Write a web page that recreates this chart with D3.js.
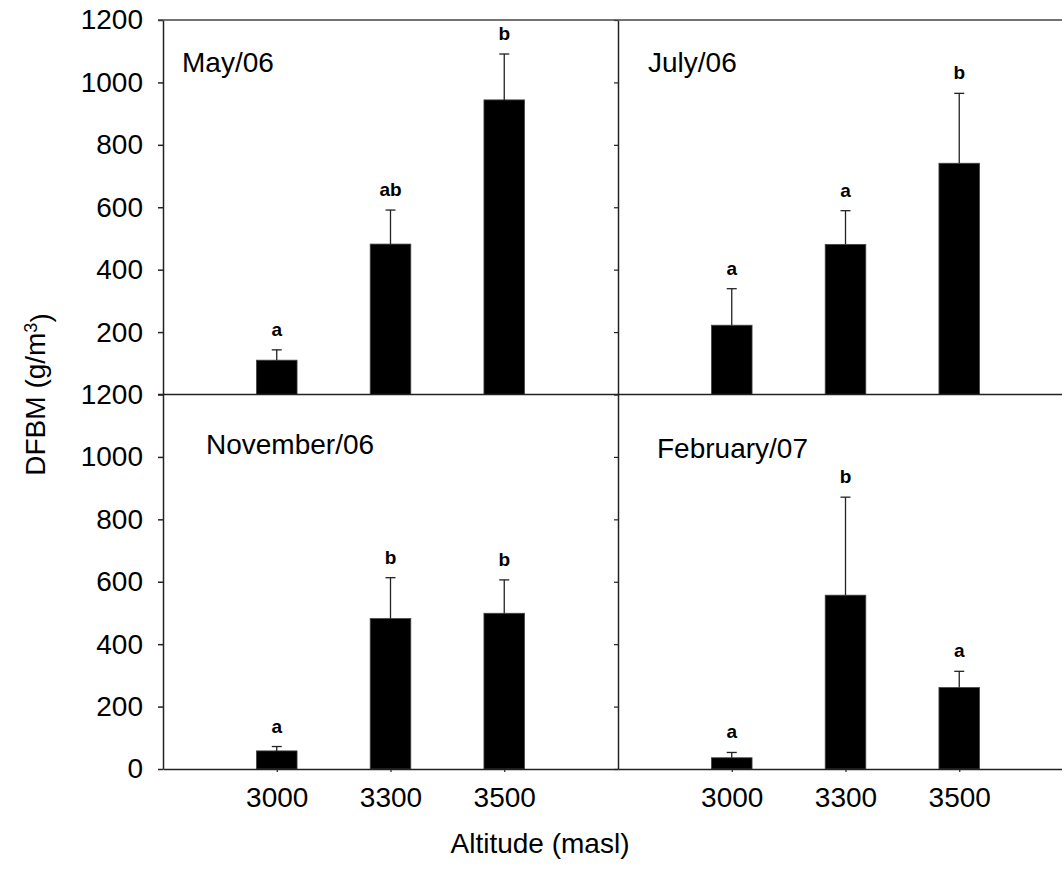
<!DOCTYPE html>
<html>
<head>
<meta charset="utf-8">
<script src="https://cdn.jsdelivr.net/npm/d3@7"></script>
<style>
  html, body { margin: 0; padding: 0; background: #fff; }
  svg { display: block; }
  text { font-family: "Liberation Sans", Arial, sans-serif; fill: #000; }
</style>
</head>
<body>
<svg id="chart" width="1062" height="888"></svg>
<script>
// ---- Data ----
const altitudes = ["3000", "3300", "3500"];
const panelTitles = ["May/06", "July/06", "November/06", "February/07"];
const meanMay = [110, 482, 944];
const errMay = [33, 109, 147];
const meanJul = [222, 481, 741];
const errJul = [117, 108, 224];
const meanNov = [58, 482, 499];
const errNov = [14, 131, 107];
const meanFeb = [36, 557, 261];
const errFeb = [17, 314, 52];
const lettersMay = ["a", "ab", "b"];
const lettersJul = ["a", "a", "b"];
const lettersNov = ["a", "b", "b"];
const lettersFeb = ["a", "b", "a"];
const yTicksTop = [200, 400, 600, 800, 1000, 1200];
const yTicksBottom = [0, 200, 400, 600, 800, 1000, 1200];
const yLabel = "DFBM (g/m";
const xLabel = "Altitude (masl)";

// ---- Layout ----
const W = 1062, H = 888;
const left = 163, mid = 618, panelW = 455;
const topY = 20, midY = 394.5, botY = 769;
const lineColor = "#222";

const svg = d3.select("#chart");

const panels = [
  { title: panelTitles[0], mean: meanMay, err: errMay, letters: lettersMay, x0: left, y0: topY, y1: midY, row: 0, col: 0, titleX: 182, titleY: 72 },
  { title: panelTitles[1], mean: meanJul, err: errJul, letters: lettersJul, x0: mid, y0: topY, y1: midY, row: 0, col: 1, titleX: 648, titleY: 72 },
  { title: panelTitles[2], mean: meanNov, err: errNov, letters: lettersNov, x0: left, y0: midY, y1: botY, row: 1, col: 0, titleX: 206, titleY: 454 },
  { title: panelTitles[3], mean: meanFeb, err: errFeb, letters: lettersFeb, x0: mid, y0: midY, y1: botY, row: 1, col: 1, titleX: 657, titleY: 458 }
];

const barW = 40.6;

panels.forEach(p => {
  const x = d3.scalePoint().domain(altitudes).range([p.x0, p.x0 + panelW]).padding(1);
  const y = d3.scaleLinear().domain([0, 1200]).range([p.y1, p.y0]);
  const g = svg.append("g");

  // bars
  g.selectAll("rect.bar").data(p.mean).join("rect")
    .attr("class", "bar")
    .attr("x", (d, i) => x(altitudes[i]) - barW / 2)
    .attr("y", d => y(d))
    .attr("width", barW)
    .attr("height", d => y(0) - y(d))
    .attr("fill", "#000")
    .attr("stroke", "#444")
    .attr("stroke-width", 0.8);

  // error bars
  p.mean.forEach((m, i) => {
    const cx = x(altitudes[i]);
    g.append("line")
      .attr("x1", cx).attr("x2", cx)
      .attr("y1", y(m)).attr("y2", y(m + p.err[i]))
      .attr("stroke", lineColor).attr("stroke-width", 1.3);
    g.append("line")
      .attr("x1", cx - 5).attr("x2", cx + 5)
      .attr("y1", y(m + p.err[i])).attr("y2", y(m + p.err[i]))
      .attr("stroke", lineColor).attr("stroke-width", 1.3);
    g.append("text")
      .attr("x", cx)
      .attr("y", y(m + p.err[i]) - 14)
      .attr("text-anchor", "middle")
      .style("font-size", "19px")
      .style("font-weight", "bold")
      .text(p.letters[i]);
  });

  // panel title
  g.append("text")
    .attr("x", p.titleX).attr("y", p.titleY)
    .style("font-size", "28px")
    .text(p.title);

  // y axis
  if (p.col === 0) {
    const ax = d3.axisLeft(y)
      .tickValues(p.row === 0 ? yTicksTop : yTicksBottom)
      .tickSize(5).tickSizeOuter(0).tickPadding(15)
      .tickFormat(d3.format("d"));
    const ag = svg.append("g").attr("transform", `translate(${p.x0},0)`).call(ax);
    ag.selectAll("text").style("font-size", "28px").style("font-family", "'Liberation Sans', Arial, sans-serif").attr("fill", "#000");
    ag.selectAll("line").attr("stroke", lineColor).attr("stroke-width", 1.5);
    ag.select(".domain").attr("stroke", lineColor).attr("stroke-width", 1.5);
  } else {
    const ax = d3.axisLeft(y)
      .tickValues(p.row === 0 ? yTicksTop : yTicksBottom)
      .tickSize(4).tickSizeOuter(0)
      .tickFormat("");
    const ag = svg.append("g").attr("transform", `translate(${p.x0},0)`).call(ax);
    ag.selectAll("line").attr("stroke", lineColor).attr("stroke-width", 1.2);
    ag.select(".domain").attr("stroke", lineColor).attr("stroke-width", 1.5);
  }

  // x axis for bottom row
  if (p.row === 1) {
    const ax = d3.axisBottom(x).tickSize(3).tickSizeOuter(0).tickPadding(15);
    const ag = svg.append("g").attr("transform", `translate(0,${botY})`).call(ax);
    ag.selectAll("text").style("font-size", "28px").style("font-family", "'Liberation Sans', Arial, sans-serif").attr("fill", "#000");
    ag.selectAll("line").attr("stroke", lineColor).attr("stroke-width", 1.2);
    ag.select(".domain").attr("stroke", lineColor).attr("stroke-width", 1.5);
  }
});

// frame lines (top, middle)
svg.append("line").attr("x1", 158).attr("x2", W).attr("y1", topY).attr("y2", topY)
  .attr("stroke", "#444").attr("stroke-width", 1.5);
svg.append("line").attr("x1", 158).attr("x2", W).attr("y1", midY).attr("y2", midY)
  .attr("stroke", lineColor).attr("stroke-width", 1.5);

// axis titles
const yl = svg.append("text")
  .attr("transform", `translate(45,${(topY + botY) / 2}) rotate(-90)`)
  .attr("text-anchor", "middle")
  .style("font-size", "28px");
yl.append("tspan").text(yLabel);
yl.append("tspan").attr("dy", "-0.45em").style("font-size", "18px").text("3");
yl.append("tspan").attr("dy", "0.45em").text(")");

svg.append("text")
  .attr("x", 540).attr("y", 853)
  .attr("text-anchor", "middle")
  .style("font-size", "28px")
  .text(xLabel);
</script>
</body>
</html>
